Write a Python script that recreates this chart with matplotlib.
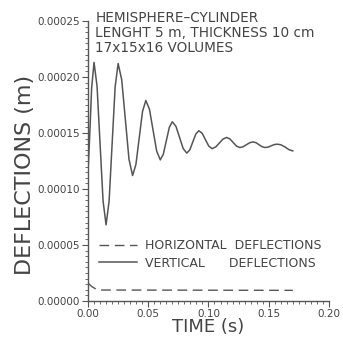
import matplotlib
matplotlib.use("Agg")
import matplotlib.pyplot as plt
from matplotlib.ticker import MultipleLocator, FormatStrFormatter

# Vertical deflections (m) vs time (s)
t_vert = [0.0, 0.0015, 0.003, 0.005,
          0.0075, 0.010, 0.0125, 0.015,
          0.0175, 0.020, 0.0225, 0.025,
          0.028, 0.031, 0.034, 0.037,
          0.03975, 0.0425, 0.04525, 0.048,
          0.051, 0.054, 0.057, 0.060,
          0.0625, 0.065, 0.0675, 0.070,
          0.073, 0.076, 0.079, 0.082,
          0.0845, 0.087, 0.0895, 0.092,
          0.09475, 0.0975, 0.10025, 0.103,
          0.106, 0.109, 0.112, 0.115,
          0.11775, 0.1205, 0.12325, 0.126,
          0.12875, 0.1315, 0.13425, 0.137,
          0.1395, 0.142, 0.1445, 0.147,
          0.1495, 0.152, 0.1545, 0.157,
          0.160, 0.1635, 0.167, 0.170]
v_vert_um = [115, 150, 190, 213,
             191.8, 140.5, 89.2, 68,
             89, 140, 191, 212,
             197.4, 162, 126.6, 112,
             121.8, 145.5, 169.2, 179,
             171.2, 152.5, 133.8, 126,
             131, 143, 155, 160,
             155.9, 146, 136.1, 132,
             134.9, 142, 149.1, 152,
             149.7, 144, 138.3, 136,
             137.5, 141, 144.5, 146,
             144.7, 141.5, 138.3, 137,
             137.7, 139.5, 141.3, 142,
             141.3, 139.5, 137.7, 137,
             137.4, 138.5, 139.6, 140,
             139.5, 137.5, 135, 134]
v_vert = [v * 1e-6 for v in v_vert_um]

# Horizontal deflections
t_hor = [0.0, 0.003, 0.006, 0.009, 0.17]
v_hor = [16e-6, 13e-6, 11e-6, 9.8e-6, 9.5e-6]

title_lines = ["HEMISPHERE\u2013CYLINDER",
               "LENGHT 5 m, THICKNESS 10 cm",
               "17x15x16 VOLUMES"]
legend_labels = ["HORIZONTAL  DEFLECTIONS", "VERTICAL      DEFLECTIONS"]

fig = plt.figure(figsize=(3.43, 3.38), dpi=100)
ax = fig.add_axes([0.2566, 0.1095, 0.7024, 0.8285])
col = "#555555"
tcol = "#444444"
l_h, = ax.plot(t_hor, v_hor, color=col, lw=1.0, dashes=(7, 4))
l_v, = ax.plot(t_vert, v_vert, color=col, lw=1.1)

ax.set_xlim(0, 0.20)
ax.set_ylim(0, 0.00025)
for s in ["top", "right"]:
    ax.spines[s].set_visible(False)
for s in ["left", "bottom"]:
    ax.spines[s].set_color(col)
    ax.spines[s].set_linewidth(1.0)

ax.xaxis.set_major_locator(MultipleLocator(0.05))
ax.xaxis.set_minor_locator(MultipleLocator(0.005))
ax.yaxis.set_major_locator(MultipleLocator(0.00005))
ax.yaxis.set_minor_locator(MultipleLocator(0.000005))
ax.xaxis.set_major_formatter(FormatStrFormatter("%.2f"))
ax.yaxis.set_major_formatter(FormatStrFormatter("%.5f"))
ax.tick_params(which="major", direction="out", length=4, width=0.8, color=col,
               labelsize=7.5, labelcolor=tcol, pad=2)
ax.tick_params(which="minor", direction="out", length=2.5, width=0.6, color=col)

ax.set_xlabel("TIME (s)", fontsize=13, color=tcol)
ax.xaxis.set_label_coords(0.5, -0.062)
ax.set_ylabel("DEFLECTIONS (m)", fontsize=16, color=tcol)
ax.yaxis.set_label_coords(-0.22, 0.45)

ax.text(0.03, 1.035, "\n".join(title_lines), transform=ax.transAxes,
        fontsize=9.8, color=tcol, va="top", ha="left", linespacing=1.08)

ax.legend([l_h, l_v], legend_labels, loc="lower left",
          bbox_to_anchor=(0.01, 0.08), frameon=False, fontsize=9,
          handlelength=3.0, handletextpad=0.7, labelspacing=0.35,
          labelcolor=tcol, borderpad=0.2)

fig.savefig("out.png", dpi=100)
